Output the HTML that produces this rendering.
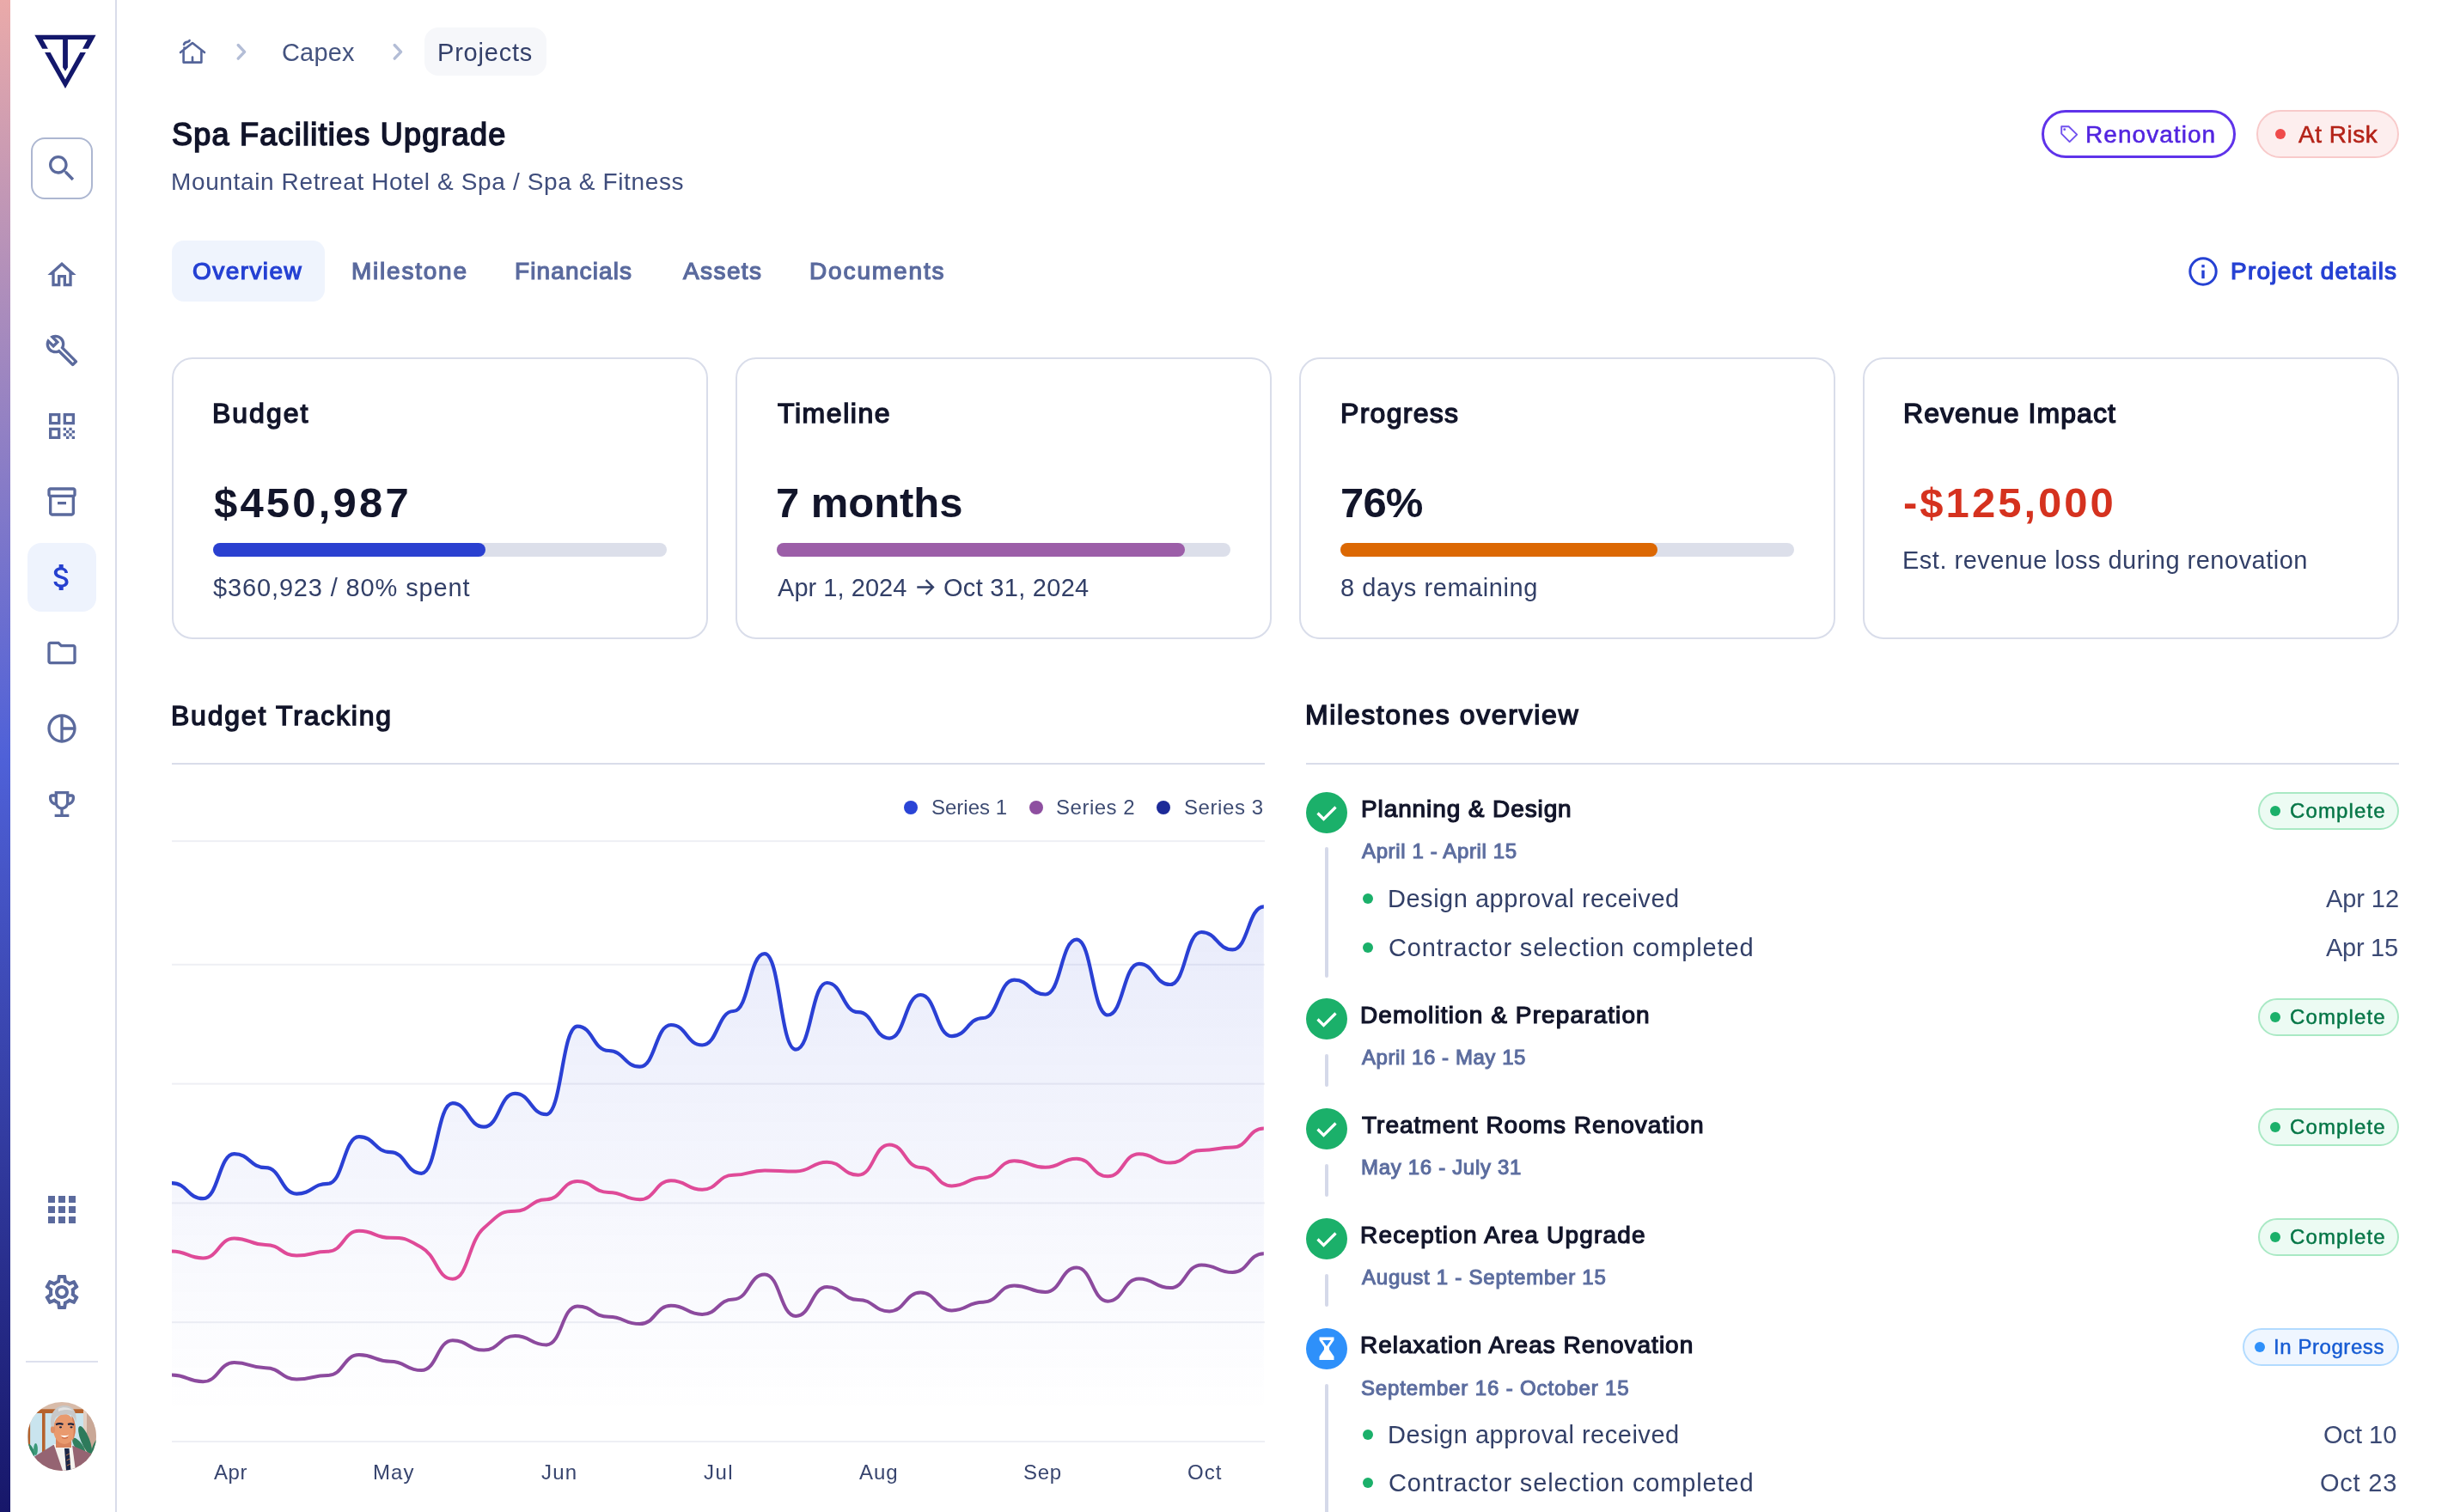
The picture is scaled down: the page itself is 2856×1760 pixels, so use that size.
<!DOCTYPE html>
<html><head><meta charset="utf-8"><title>Spa Facilities Upgrade</title>
<style>
html,body{margin:0;padding:0;}
body{width:2856px;height:1760px;overflow:hidden;position:relative;background:#fff;font-family:'Liberation Sans', sans-serif;-webkit-font-smoothing:antialiased;}
.t{position:absolute;white-space:nowrap;will-change:transform;}
@media (max-width:2000px){html{zoom:0.5;}}
body.measure .t{color:#000 !important;}
</style></head><body>
<div style="position:absolute;left:0px;top:0px;width:12px;height:1760px;background:linear-gradient(180deg,#eaaaa9 0%,#4f61d8 50%,#17176a 100%)"></div>
<div style="position:absolute;left:134px;top:0px;width:2px;height:1760px;background:#d9dcea"></div>
<svg style="position:absolute;left:0;top:0" width="136" height="120" viewBox="0 0 136 120"><path fill="#13176b" d="M40.3,40.8 L111.6,40.8 L102.8,56.7 L96,56.7 L101.8,45.9 L78.9,45.9 L78.9,78.4 L76,82.8 L73.1,78.4 L73.1,45.9 L49.9,45.9 L55.9,56.7 L49.2,56.7 Z"/><path fill="#13176b" d="M52.1,61 L58.6,61 L76,92.4 L93.4,61 L99.9,61 L76,103 Z"/></svg>
<div style="position:absolute;left:36px;top:160px;width:72px;height:72px;box-sizing:border-box;border:2px solid #adb7d1;border-radius:16px;background:#fff"></div>
<svg style="position:absolute;left:52.0px;top:176.0px" width="40" height="40" viewBox="0 0 24 24"><path fill="#5b6a9d" d="M15.5 14h-.79l-.28-.27C15.41 12.59 16 11.11 16 9.5 16 5.91 13.09 3 9.5 3S3 5.91 3 9.5 5.91 16 9.5 16c1.61 0 3.09-.59 4.23-1.57l.27.28v.79l5 4.99L20.49 19l-4.99-5zm-6 0C7.01 14 5 11.99 5 9.5S7.01 5 9.5 5 14 7.01 14 9.5 11.99 14 9.5 14z"/></svg>
<svg style="position:absolute;left:52.0px;top:300.0px" width="40" height="40" viewBox="0 0 24 24"><path fill="#5b6a9d" d="M12 5.69l5 4.5V18h-2v-6H9v6H7v-7.81l5-4.5M12 3L2 12h3v8h6v-6h2v6h6v-8h3L12 3z"/></svg>
<svg style="position:absolute;left:52.0px;top:388.0px" width="40" height="40" viewBox="0 0 24 24"><path fill="#5b6a9d" d="M22.61 18.99l-9.08-9.08c.93-2.34.45-5.1-1.44-7C9.79.61 6.21.4 3.66 2.26L7.5 6.11 6.08 7.52 2.25 3.69C.39 6.23.6 9.82 2.9 12.11c1.86 1.86 4.57 2.35 6.89 1.48l9.11 9.11c.39.39 1.02.39 1.41 0l2.3-2.3c.4-.38.4-1.01 0-1.41zm-3 1.6l-9.46-9.46c-.61.45-1.29.72-2 .82-1.36.2-2.79-.21-3.83-1.25C3.37 9.76 2.93 8.5 3 7.26l3.09 3.09 4.24-4.24-3.09-3.09c1.24-.07 2.49.37 3.44 1.31 1.08 1.08 1.49 2.57 1.24 3.96-.12.71-.42 1.37-.88 1.96l9.45 9.45-.88.89z"/></svg>
<svg style="position:absolute;left:52.0px;top:476.0px" width="40" height="40" viewBox="0 0 24 24"><path fill="#5b6a9d" d="M3 11h8V3H3v8zm2-6h4v4H5V5zM3 21h8v-8H3v8zm2-6h4v4H5v-4zM13 3v8h8V3h-8zm6 6h-4V5h4v4zM19 19h2v2h-2zM13 13h2v2h-2zM15 15h2v2h-2zM13 17h2v2h-2zM15 19h2v2h-2zM17 17h2v2h-2zM17 13h2v2h-2zM19 15h2v2h-2z"/></svg>
<svg style="position:absolute;left:52.0px;top:564.0px" width="40" height="40" viewBox="0 0 24 24"><path fill="#5b6a9d" d="M20 2H4c-1 0-2 .9-2 2v3.01c0 .72.43 1.34 1 1.69V20c0 1.1 1.1 2 2 2h14c.9 0 2-.9 2-2V8.7c.57-.35 1-.97 1-1.69V4c0-1.1-1-2-2-2zm-1 18H5V9h14v11zm1-13H4V4h16v3zM9 12h6v2H9z"/></svg>
<div style="position:absolute;left:32px;top:632px;width:80px;height:80px;background:#eef3fd;border-radius:16px"></div>
<svg style="position:absolute;left:52.0px;top:652.0px" width="40" height="40" viewBox="0 0 24 24"><path fill="#2540cf" d="M11.8 10.9c-2.27-.59-3-1.2-3-2.15 0-1.09 1.01-1.85 2.7-1.85 1.78 0 2.44.85 2.5 2.1h2.21c-.07-1.72-1.12-3.3-3.21-3.81V3h-3v2.16c-1.94.42-3.5 1.68-3.5 3.61 0 2.31 1.91 3.46 4.7 4.13 2.5.6 3 1.48 3 2.41 0 .69-.49 1.79-2.7 1.79-2.06 0-2.87-.92-2.98-2.1h-2.2c.12 2.19 1.76 3.42 3.68 3.83V21h3v-2.15c1.95-.37 3.5-1.5 3.5-3.55 0-2.84-2.43-3.81-4.7-4.4z"/></svg>
<svg style="position:absolute;left:52.0px;top:740.0px" width="40" height="40" viewBox="0 0 24 24"><path fill="#5b6a9d" d="M9.17 6l2 2H20v10H4V6h5.17M10 4H4c-1.1 0-1.99.9-1.99 2L2 18c0 1.1.9 2 2 2h16c1.1 0 2-.9 2-2V8c0-1.1-.9-2-2-2h-8l-2-2z"/></svg>
<svg style="position:absolute;left:52.0px;top:828.0px" width="40" height="40" viewBox="0 0 24 24"><path fill="#5b6a9d" d="M12 2C6.48 2 2 6.48 2 12s4.48 10 10 10 10-4.48 10-10S17.52 2 12 2zm7.93 9H13V4.07c3.61.45 6.48 3.32 6.93 6.93zM4 12c0-4.07 3.06-7.44 7-7.93v15.86c-3.94-.49-7-3.86-7-7.93zm9 7.93V13h6.93c-.45 3.61-3.32 6.48-6.93 6.93z"/></svg>
<svg style="position:absolute;left:52.0px;top:916.0px" width="40" height="40" viewBox="0 0 24 24"><path fill="#5b6a9d" d="M19 5h-2V3H7v2H5c-1.1 0-2 .9-2 2v1c0 2.55 1.92 4.63 4.39 4.94.63 1.5 1.98 2.63 3.61 2.96V19H7v2h10v-2h-4v-3.1c1.63-.33 2.98-1.46 3.61-2.96C19.08 12.63 21 10.55 21 8V7c0-1.1-.9-2-2-2zM5 8V7h2v3.82C5.84 10.4 5 9.3 5 8zm7 6c-1.65 0-3-1.35-3-3V5h6v6c0 1.65-1.35 3-3 3zm7-6c0 1.3-.84 2.4-2 2.82V7h2v1z"/></svg>
<svg style="position:absolute;left:48.0px;top:1384.0px" width="48" height="48" viewBox="0 0 24 24"><path fill="#5b6a9d" d="M4 8h4V4H4v4zm6 12h4v-4h-4v4zm-6 0h4v-4H4v4zm0-6h4v-4H4v4zm6 0h4v-4h-4v4zm6-10v4h4V4h-4zm-6 4h4V4h-4v4zm6 6h4v-4h-4v4zm0 6h4v-4h-4v4z"/></svg>
<svg style="position:absolute;left:48.0px;top:1480.0px" width="48" height="48" viewBox="0 0 24 24"><path fill="#5b6a9d" d="M19.43 12.98c.04-.32.07-.64.07-.98 0-.34-.03-.66-.07-.98l2.11-1.65c.19-.15.24-.42.12-.64l-2-3.46c-.09-.16-.26-.25-.44-.25-.06 0-.12.01-.17.03l-2.49 1c-.52-.4-1.08-.73-1.69-.98l-.38-2.65C14.46 2.18 14.25 2 14 2h-4c-.25 0-.46.18-.49.42l-.38 2.65c-.61.25-1.17.59-1.69.98l-2.49-1c-.06-.02-.12-.03-.18-.03-.17 0-.34.09-.43.25l-2 3.46c-.13.22-.07.49.12.64l2.11 1.65c-.04.32-.07.65-.07.98 0 .33.03.66.07.98l-2.11 1.65c-.19.15-.24.42-.12.64l2 3.46c.09.16.26.25.44.25.06 0 .12-.01.17-.03l2.49-1c.52.4 1.08.73 1.69.98l.38 2.65c.03.24.24.42.49.42h4c.25 0 .46-.18.49-.42l.38-2.65c.61-.25 1.17-.59 1.69-.98l2.49 1c.06.02.12.03.18.03.17 0 .34-.09.43-.25l2-3.46c.12-.22.07-.49-.12-.64l-2.11-1.65zm-1.98-1.71c.04.31.05.52.05.73 0 .21-.02.43-.05.73l-.14 1.13.89.7 1.08.84-.7 1.21-1.27-.51-1.04-.42-.9.68c-.43.32-.84.56-1.25.73l-1.06.43-.16 1.13-.2 1.35h-1.4l-.19-1.35-.16-1.13-1.06-.43c-.43-.18-.83-.41-1.23-.71l-.91-.7-1.06.43-1.27.51-.7-1.21 1.08-.84.89-.7-.14-1.13c-.03-.31-.05-.54-.05-.74s.02-.43.05-.73l.14-1.13-.89-.7-1.08-.84.7-1.21 1.27.51 1.04.42.9-.68c.43-.32.84-.56 1.25-.73l1.06-.43.16-1.13.2-1.35h1.39l.19 1.35.16 1.13 1.06.43c.43.18.83.41 1.23.71l.91.7 1.06-.43 1.27-.51.7 1.21-1.07.85-.89.7.14 1.13zM12 8c-2.21 0-4 1.79-4 4s1.79 4 4 4 4-1.79 4-4-1.79-4-4-4zm0 6c-1.1 0-2-.9-2-2s.9-2 2-2 2 .9 2 2-.9 2-2 2z"/></svg>
<div style="position:absolute;left:30px;top:1584px;width:84px;height:2px;background:#dde0ee"></div>
<svg style="position:absolute;left:32px;top:1632px" width="80" height="80" viewBox="0 0 80 80">
<defs><clipPath id="av"><circle cx="40" cy="40" r="40"/></clipPath></defs>
<g clip-path="url(#av)">
<rect width="80" height="80" fill="#d8bba9"/>
<rect x="0" y="8.3" width="66" height="5" fill="#b5622c"/>
<rect x="0" y="13" width="66" height="52" fill="#c9e4ee"/>
<rect x="0.5" y="13" width="2.6" height="52" fill="#b5622c"/>
<rect x="17" y="13" width="3.6" height="48" fill="#b5622c"/>
<rect x="65" y="8" width="15" height="72" fill="#c9a796"/>
<rect x="65" y="8" width="4" height="72" fill="#e3d0c3"/>
<ellipse cx="67" cy="44" rx="5" ry="17" transform="rotate(-22 67 44)" fill="#2d7a5b"/>
<ellipse cx="60" cy="52" rx="4.5" ry="12" transform="rotate(-35 60 52)" fill="#2f805f"/>
<ellipse cx="78" cy="56" rx="3.5" ry="14" transform="rotate(18 78 56)" fill="#2d7a5b"/>
<ellipse cx="4" cy="56" rx="3" ry="8" transform="rotate(-25 4 56)" fill="#2f8a6a"/>
<ellipse cx="9.5" cy="55" rx="2.4" ry="7" fill="#3a9a78"/>
<path d="M4,66 L30,50 L53,51 L76,61 L80,80 L0,80 Z" fill="#956472"/>
<path d="M30.5,49 L52,50 L56,80 L41,80 Z" fill="#f5f3ef"/>
<rect x="33" y="40" width="18" height="13" fill="#d9845c"/>
<path d="M43,54 L48.5,54 L50.5,80 L45,80 Z" fill="#1d2847"/>
<path d="M45,62 L49,60 M45.5,68 L49.5,66 M46,74 L50,72" stroke="#c0774a" stroke-width="1"/>
<ellipse cx="43" cy="31.5" rx="13" ry="17.5" fill="#e99a6e"/>
<path d="M51,16 C57,20 57,38 52,47 C55,38 54,24 51,16 Z" fill="#d47d55"/>
<ellipse cx="29.5" cy="32" rx="2.6" ry="4.2" fill="#df8f66"/>
<path d="M27.5,28 C25,13 33,4 43,4 C52,4 58,10 56.5,24 C55,17 51,13.5 44,14.5 C38,15 33,15.5 31.5,21 L30.5,29 Z" fill="#c8c8c8"/>
<path d="M36,8 C41,5 49,6 53,10 C48,8.5 42,8.5 36,11 Z" fill="#e2e2e2"/>
<path d="M33,26.2 Q37,24.3 41.5,26" stroke="#1d2340" stroke-width="2.2" fill="none"/>
<path d="M47,26 Q50.5,24.6 54,26.5" stroke="#1d2340" stroke-width="2.2" fill="none"/>
<ellipse cx="38.5" cy="29.3" rx="1.6" ry="1.1" fill="#1d2340"/>
<ellipse cx="51" cy="29.3" rx="1.6" ry="1.1" fill="#1d2340"/>
<path d="M38.3,38.4 Q43.5,43.5 48.5,38.2 Q43.5,39.8 38.3,38.4 Z" fill="#ffffff"/>
<path d="M40,41.5 Q43.5,43.5 47,41.3" stroke="#c8603f" stroke-width="0.9" fill="none"/>
</g></svg>
<svg style="position:absolute;left:200px;top:36px" width="50" height="50" viewBox="200 36 50 50" fill="none" stroke="#55659a" stroke-width="2.6" stroke-linecap="round" stroke-linejoin="round"><path d="M213.6,59 V72.6 H234.4 V59" stroke-linecap="butt"/><path d="M210,61 L224,50 L238,61"/><path d="M224,72 V66.5"/><path d="M214.6,57.5 V54.5" stroke-linecap="butt"/><path d="M214,51.8 C214.8,49 217.5,48.8 219,48.6 C220,48.4 220.5,47.6 220.6,47"/></svg>
<svg style="position:absolute;left:273.5px;top:48.5px" width="16" height="24" viewBox="0 0 16 24" fill="none" stroke="#b3bdd6" stroke-width="3.4" stroke-linecap="round" stroke-linejoin="round"><path d="M3.2 3.5 L10.6 11.3 L3.2 19.1"/></svg>
<svg style="position:absolute;left:456px;top:48.5px" width="16" height="24" viewBox="0 0 16 24" fill="none" stroke="#b3bdd6" stroke-width="3.4" stroke-linecap="round" stroke-linejoin="round"><path d="M3.2 3.5 L10.6 11.3 L3.2 19.1"/></svg>
<div id="bc_capex" class="t" style="top:47px;font-size:29px;line-height:29px;color:#44537f;font-weight:400;letter-spacing:0.175px;left:327.60px;">Capex</div>
<div style="position:absolute;left:494px;top:32px;width:142px;height:56px;background:#f6f7fa;border-radius:16px"></div>
<div id="bc_proj" class="t" style="top:47px;font-size:29px;line-height:29px;color:#34406a;font-weight:400;letter-spacing:0.786px;left:509.00px;">Projects</div>
<div id="title" class="t" style="top:138.5px;font-size:36px;line-height:36px;color:#11142a;font-weight:400;letter-spacing:1.238px;left:200.00px;-webkit-text-stroke:1.58px #11142a;">Spa Facilities Upgrade</div>
<div id="subtitle" class="t" style="top:198.4px;font-size:28px;line-height:28px;color:#3f4d7c;font-weight:400;letter-spacing:0.626px;left:199.00px;">Mountain Retreat Hotel &amp; Spa / Spa &amp; Fitness</div>
<div style="position:absolute;left:2376px;top:128px;width:226px;height:56px;box-sizing:border-box;border:3px solid #5f33ea;border-radius:28px;background:#fff"></div>
<svg style="position:absolute;left:2390px;top:140px" width="36" height="32" viewBox="2390 140 36 32" fill="none" stroke="#7151ee" stroke-width="1.9" stroke-linejoin="round"><path d="M2399.2,147.2 H2407.6 L2417.2,156.6 L2408.6,165.1 L2399.2,155.6 Z"/><circle cx="2402.7" cy="150.7" r="1.4" fill="#7151ee" stroke="none"/></svg>
<div id="renov" class="t" style="top:142.9px;font-size:28px;line-height:28px;color:#5224e0;font-weight:400;letter-spacing:1.056px;left:2427.00px;-webkit-text-stroke:0.56px #5224e0;">Renovation</div>
<div style="position:absolute;left:2626px;top:128px;width:166px;height:56px;box-sizing:border-box;border:2px solid #f8caca;border-radius:28px;background:#fdeeee"></div>
<div style="position:absolute;left:2648px;top:150px;width:12px;height:12px;background:#ef4b4b;border-radius:50%"></div>
<div id="atrisk" class="t" style="top:142.9px;font-size:28px;line-height:28px;color:#b42318;font-weight:400;letter-spacing:0.518px;left:2675.00px;-webkit-text-stroke:0.56px #b42318;">At Risk</div>
<div style="position:absolute;left:200px;top:280px;width:178px;height:71px;background:#eff4fd;border-radius:14px"></div>
<div id="tab_over" class="t" style="top:302px;font-size:28px;line-height:28px;color:#2541d3;font-weight:400;letter-spacing:1.429px;left:224.00px;-webkit-text-stroke:1.23px #2541d3;">Overview</div>
<div id="tab_mile" class="t" style="top:302px;font-size:28px;line-height:28px;color:#5a6a9e;font-weight:400;letter-spacing:1.775px;left:409.00px;-webkit-text-stroke:1.23px #5a6a9e;">Milestone</div>
<div id="tab_fin" class="t" style="top:302px;font-size:28px;line-height:28px;color:#5a6a9e;font-weight:400;letter-spacing:1.111px;left:599.00px;-webkit-text-stroke:1.23px #5a6a9e;">Financials</div>
<div id="tab_ass" class="t" style="top:302px;font-size:28px;line-height:28px;color:#5a6a9e;font-weight:400;letter-spacing:1.400px;left:795.00px;-webkit-text-stroke:1.23px #5a6a9e;">Assets</div>
<div id="tab_doc" class="t" style="top:302px;font-size:28px;line-height:28px;color:#5a6a9e;font-weight:400;letter-spacing:1.875px;left:942.00px;-webkit-text-stroke:1.23px #5a6a9e;">Documents</div>
<svg style="position:absolute;left:2544px;top:296px" width="40" height="40" viewBox="0 0 40 40" fill="none"><circle cx="20" cy="20" r="15.2" stroke="#2541d3" stroke-width="3"/><rect x="18.3" y="18.6" width="3.4" height="9.6" fill="#2541d3"/><rect x="18.3" y="12.2" width="3.4" height="3.2" fill="#2541d3"/></svg>
<div id="projdet" class="t" style="top:302.2px;font-size:28px;line-height:28px;color:#2541d3;font-weight:400;letter-spacing:1.230px;left:2596.40px;-webkit-text-stroke:1.23px #2541d3;">Project details</div>
<div style="position:absolute;left:200px;top:416px;width:624px;height:328px;box-sizing:border-box;border:2px solid #d9ddea;border-radius:24px;background:#fff"></div>
<div id="c0_t" class="t" style="top:464.8px;font-size:32px;line-height:32px;color:#12152a;font-weight:400;letter-spacing:1.980px;left:246.80px;-webkit-text-stroke:1.41px #12152a;">Budget</div>
<div id="c0_v" class="t" style="top:561px;font-size:49px;line-height:49px;color:#12152a;font-weight:700;letter-spacing:3.182px;left:249.40px;">$450,987</div>
<div style="position:absolute;left:248px;top:632px;width:528px;height:16px;background:#dcdfea;border-radius:8px"></div>
<div style="position:absolute;left:248px;top:632px;width:317px;height:16px;background:#2a40d0;border-radius:8px"></div>
<div id="c0_s" class="t" style="top:670px;font-size:29px;line-height:29px;color:#323f67;font-weight:400;letter-spacing:0.861px;left:247.80px;">$360,923 / 80% spent</div>
<div style="position:absolute;left:856px;top:416px;width:624px;height:328px;box-sizing:border-box;border:2px solid #d9ddea;border-radius:24px;background:#fff"></div>
<div id="c1_t" class="t" style="top:464.8px;font-size:32px;line-height:32px;color:#12152a;font-weight:400;letter-spacing:1.559px;left:905.00px;-webkit-text-stroke:1.41px #12152a;">Timeline</div>
<div id="c1_v" class="t" style="top:561px;font-size:49px;line-height:49px;color:#12152a;font-weight:700;letter-spacing:-0.040px;left:903.00px;">7 months</div>
<div style="position:absolute;left:904px;top:632px;width:528px;height:16px;background:#dcdfea;border-radius:8px"></div>
<div style="position:absolute;left:904px;top:632px;width:475px;height:16px;background:#9c5ea8;border-radius:8px"></div>
<div id="c1_sa" class="t" style="top:670px;font-size:29px;line-height:29px;color:#323f67;font-weight:400;letter-spacing:0.040px;left:905.00px;">Apr 1, 2024</div>
<div id="c1_sb" class="t" style="top:670px;font-size:29px;line-height:29px;color:#323f67;font-weight:400;letter-spacing:0.290px;left:1098.20px;">Oct 31, 2024</div>
<svg style="position:absolute;left:1064px;top:672px" width="28" height="24" viewBox="1064 672 28 24" fill="none" stroke="#323f67" stroke-width="2.3"><path d="M1067.3,683.5 H1086.6 M1077.6,675.1 L1086,683.5 L1077.6,691.9"/></svg>
<div style="position:absolute;left:1512px;top:416px;width:624px;height:328px;box-sizing:border-box;border:2px solid #d9ddea;border-radius:24px;background:#fff"></div>
<div id="c2_t" class="t" style="top:464.8px;font-size:32px;line-height:32px;color:#12152a;font-weight:400;letter-spacing:1.286px;left:1559.90px;-webkit-text-stroke:1.41px #12152a;">Progress</div>
<div id="c2_v" class="t" style="top:561px;font-size:49px;line-height:49px;color:#12152a;font-weight:700;letter-spacing:-0.850px;left:1559.90px;">76%</div>
<div style="position:absolute;left:1560px;top:632px;width:528px;height:16px;background:#dcdfea;border-radius:8px"></div>
<div style="position:absolute;left:1560px;top:632px;width:369px;height:16px;background:#dc6803;border-radius:8px"></div>
<div id="c2_s" class="t" style="top:670px;font-size:29px;line-height:29px;color:#323f67;font-weight:400;letter-spacing:0.566px;left:1560.00px;">8 days remaining</div>
<div style="position:absolute;left:2168px;top:416px;width:624px;height:328px;box-sizing:border-box;border:2px solid #d9ddea;border-radius:24px;background:#fff"></div>
<div id="c3_t" class="t" style="top:464.8px;font-size:32px;line-height:32px;color:#12152a;font-weight:400;letter-spacing:1.068px;left:2215.10px;-webkit-text-stroke:1.41px #12152a;">Revenue Impact</div>
<div id="c3_v" class="t" style="top:561px;font-size:49px;line-height:49px;color:#d5321f;font-weight:700;letter-spacing:3.019px;left:2215.10px;">-$125,000</div>
<div id="c3_s" class="t" style="top:638.4px;font-size:29px;line-height:29px;color:#323f67;font-weight:400;letter-spacing:0.497px;left:2214.10px;">Est. revenue loss during renovation</div>
<div id="bt_title" class="t" style="top:816.7px;font-size:32px;line-height:32px;color:#12152a;font-weight:400;letter-spacing:1.769px;left:198.60px;-webkit-text-stroke:1.41px #12152a;">Budget Tracking</div>
<div style="position:absolute;left:200px;top:888px;width:1272px;height:2px;background:#d9ddea"></div>
<div style="position:absolute;left:1052px;top:932px;width:16px;height:16px;background:#2a44d6;border-radius:50%"></div>
<div id="lg0" class="t" style="top:927.5px;font-size:24px;line-height:24px;color:#3e4c73;font-weight:400;letter-spacing:0.000px;left:1084.00px;">Series 1</div>
<div style="position:absolute;left:1198px;top:932px;width:16px;height:16px;background:#8e4fa0;border-radius:50%"></div>
<div id="lg1" class="t" style="top:927.5px;font-size:24px;line-height:24px;color:#3e4c73;font-weight:400;letter-spacing:0.519px;left:1229.20px;">Series 2</div>
<div style="position:absolute;left:1346px;top:932px;width:16px;height:16px;background:#1c2a98;border-radius:50%"></div>
<div id="lg2" class="t" style="top:927.5px;font-size:24px;line-height:24px;color:#3e4c73;font-weight:400;letter-spacing:0.571px;left:1378.00px;">Series 3</div>
<svg style="position:absolute;left:0;top:0" width="1480" height="1700" viewBox="0 0 1480 1700">
<defs><linearGradient id="ag" x1="0" y1="1055" x2="0" y2="1678" gradientUnits="userSpaceOnUse">
<stop offset="0.05" stop-color="#2a44d6" stop-opacity="0.10"/><stop offset="0.95" stop-color="#2a44d6" stop-opacity="0"/></linearGradient></defs>
<rect x="200" y="978.15" width="1272" height="2" fill="#eeeff4"/><rect x="200" y="1121.8" width="1272" height="2" fill="#eeeff4"/><rect x="200" y="1260.6" width="1272" height="2" fill="#eeeff4"/><rect x="200" y="1399.4" width="1272" height="2" fill="#eeeff4"/><rect x="200" y="1538.2" width="1272" height="2" fill="#eeeff4"/><rect x="200" y="1677.0" width="1272" height="2" fill="#eeeff4"/>
<path d="M200.00,1377.20C218.15,1377.20 218.15,1395.20 236.31,1395.20C254.46,1395.20 254.46,1343.20 272.62,1343.20C290.77,1343.20 290.77,1359.10 308.93,1359.10C327.08,1359.10 327.08,1389.60 345.23,1389.60C363.39,1389.60 363.39,1377.80 381.54,1377.80C399.70,1377.80 399.70,1323.10 417.85,1323.10C436.01,1323.10 436.01,1341.10 454.16,1341.10C472.31,1341.10 472.31,1365.80 490.47,1365.80C508.62,1365.80 508.62,1284.20 526.78,1284.20C544.93,1284.20 544.93,1311.70 563.09,1311.70C581.24,1311.70 581.24,1272.90 599.39,1272.90C617.55,1272.90 617.55,1297.20 635.70,1297.20C653.86,1297.20 653.86,1194.60 672.01,1194.60C690.17,1194.60 690.17,1223.00 708.32,1223.00C726.47,1223.00 726.47,1241.70 744.63,1241.70C762.78,1241.70 762.78,1193.00 780.94,1193.00C799.09,1193.00 799.09,1216.50 817.25,1216.50C835.40,1216.50 835.40,1177.00 853.55,1177.00C871.71,1177.00 871.71,1110.20 889.86,1110.20C908.02,1110.20 908.02,1221.60 926.17,1221.60C944.33,1221.60 944.33,1144.00 962.48,1144.00C980.63,1144.00 980.63,1178.10 998.79,1178.10C1016.94,1178.10 1016.94,1208.60 1035.10,1208.60C1053.25,1208.60 1053.25,1158.00 1071.41,1158.00C1089.56,1158.00 1089.56,1206.10 1107.71,1206.10C1125.87,1206.10 1125.87,1185.00 1144.02,1185.00C1162.18,1185.00 1162.18,1140.70 1180.33,1140.70C1198.49,1140.70 1198.49,1157.50 1216.64,1157.50C1234.79,1157.50 1234.79,1093.60 1252.95,1093.60C1271.10,1093.60 1271.10,1181.50 1289.26,1181.50C1307.41,1181.50 1307.41,1121.90 1325.57,1121.90C1343.72,1121.90 1343.72,1146.00 1361.87,1146.00C1380.03,1146.00 1380.03,1085.00 1398.18,1085.00C1416.34,1085.00 1416.34,1105.40 1434.49,1105.40C1452.65,1105.40 1452.65,1055.40 1470.80,1055.40 L1470.80,1678 L200.00,1678 Z" fill="url(#ag)"/>
<path d="M200.00,1600.60C218.15,1600.60 218.15,1608.20 236.31,1608.20C254.46,1608.20 254.46,1586.10 272.62,1586.10C290.77,1586.10 290.77,1592.30 308.93,1592.30C327.08,1592.30 327.08,1605.50 345.23,1605.50C363.39,1605.50 363.39,1601.00 381.54,1601.00C399.70,1601.00 399.70,1577.10 417.85,1577.10C436.01,1577.10 436.01,1584.70 454.16,1584.70C472.31,1584.70 472.31,1595.10 490.47,1595.10C508.62,1595.10 508.62,1560.30 526.78,1560.30C544.93,1560.30 544.93,1571.60 563.09,1571.60C581.24,1571.60 581.24,1555.00 599.39,1555.00C617.55,1555.00 617.55,1565.40 635.70,1565.40C653.86,1565.40 653.86,1520.40 672.01,1520.40C690.17,1520.40 690.17,1532.80 708.32,1532.80C726.47,1532.80 726.47,1541.10 744.63,1541.10C762.78,1541.10 762.78,1519.70 780.94,1519.70C799.09,1519.70 799.09,1530.00 817.25,1530.00C835.40,1530.00 835.40,1512.40 853.55,1512.40C871.71,1512.40 871.71,1483.50 889.86,1483.50C908.02,1483.50 908.02,1531.90 926.17,1531.90C944.33,1531.90 944.33,1498.10 962.48,1498.10C980.63,1498.10 980.63,1512.90 998.79,1512.90C1016.94,1512.90 1016.94,1526.40 1035.10,1526.40C1053.25,1526.40 1053.25,1504.60 1071.41,1504.60C1089.56,1504.60 1089.56,1525.40 1107.71,1525.40C1125.87,1525.40 1125.87,1515.70 1144.02,1515.70C1162.18,1515.70 1162.18,1496.40 1180.33,1496.40C1198.49,1496.40 1198.49,1504.00 1216.64,1504.00C1234.79,1504.00 1234.79,1475.60 1252.95,1475.60C1271.10,1475.60 1271.10,1514.70 1289.26,1514.70C1307.41,1514.70 1307.41,1488.40 1325.57,1488.40C1343.72,1488.40 1343.72,1499.10 1361.87,1499.10C1380.03,1499.10 1380.03,1472.40 1398.18,1472.40C1416.34,1472.40 1416.34,1481.10 1434.49,1481.10C1452.65,1481.10 1452.65,1459.30 1470.80,1459.30" fill="none" stroke="#8c4a9e" stroke-width="4"/>
<path d="M200.00,1456.40C218.15,1456.40 218.15,1464.40 236.31,1464.40C254.46,1464.40 254.46,1441.50 272.62,1441.50C290.77,1441.50 290.77,1448.90 308.93,1448.90C327.08,1448.90 327.08,1461.60 345.23,1461.60C363.39,1461.60 363.39,1456.80 381.54,1456.80C399.70,1456.80 399.70,1432.80 417.85,1432.80C436.01,1432.80 436.01,1440.80 454.16,1440.80C472.31,1440.80 472.31,1441.92 490.47,1451.90C508.62,1461.88 508.62,1488.70 526.78,1488.70C544.93,1488.70 544.93,1444.83 563.09,1429.40C581.24,1413.97 581.24,1409.80 599.39,1409.80C617.55,1409.80 617.55,1396.20 635.70,1396.20C653.86,1396.20 653.86,1375.10 672.01,1375.10C690.17,1375.10 690.17,1387.90 708.32,1387.90C726.47,1387.90 726.47,1396.20 744.63,1396.20C762.78,1396.20 762.78,1374.30 780.94,1374.30C799.09,1374.30 799.09,1384.80 817.25,1384.80C835.40,1384.80 835.40,1367.70 853.55,1367.70C871.71,1367.70 871.71,1362.40 889.86,1362.40C908.02,1362.40 908.02,1363.50 926.17,1363.50C944.33,1363.50 944.33,1352.70 962.48,1352.70C980.63,1352.70 980.63,1367.70 998.79,1367.70C1016.94,1367.70 1016.94,1332.40 1035.10,1332.40C1053.25,1332.40 1053.25,1359.00 1071.41,1359.00C1089.56,1359.00 1089.56,1380.40 1107.71,1380.40C1125.87,1380.40 1125.87,1370.70 1144.02,1370.70C1162.18,1370.70 1162.18,1351.30 1180.33,1351.30C1198.49,1351.30 1198.49,1358.80 1216.64,1358.80C1234.79,1358.80 1234.79,1348.70 1252.95,1348.70C1271.10,1348.70 1271.10,1369.30 1289.26,1369.30C1307.41,1369.30 1307.41,1343.20 1325.57,1343.20C1343.72,1343.20 1343.72,1353.60 1361.87,1353.60C1380.03,1353.60 1380.03,1338.90 1398.18,1338.90C1416.34,1338.90 1416.34,1335.60 1434.49,1335.60C1452.65,1335.60 1452.65,1313.50 1470.80,1313.50" fill="none" stroke="#df4a98" stroke-width="4"/>
<path d="M200.00,1377.20C218.15,1377.20 218.15,1395.20 236.31,1395.20C254.46,1395.20 254.46,1343.20 272.62,1343.20C290.77,1343.20 290.77,1359.10 308.93,1359.10C327.08,1359.10 327.08,1389.60 345.23,1389.60C363.39,1389.60 363.39,1377.80 381.54,1377.80C399.70,1377.80 399.70,1323.10 417.85,1323.10C436.01,1323.10 436.01,1341.10 454.16,1341.10C472.31,1341.10 472.31,1365.80 490.47,1365.80C508.62,1365.80 508.62,1284.20 526.78,1284.20C544.93,1284.20 544.93,1311.70 563.09,1311.70C581.24,1311.70 581.24,1272.90 599.39,1272.90C617.55,1272.90 617.55,1297.20 635.70,1297.20C653.86,1297.20 653.86,1194.60 672.01,1194.60C690.17,1194.60 690.17,1223.00 708.32,1223.00C726.47,1223.00 726.47,1241.70 744.63,1241.70C762.78,1241.70 762.78,1193.00 780.94,1193.00C799.09,1193.00 799.09,1216.50 817.25,1216.50C835.40,1216.50 835.40,1177.00 853.55,1177.00C871.71,1177.00 871.71,1110.20 889.86,1110.20C908.02,1110.20 908.02,1221.60 926.17,1221.60C944.33,1221.60 944.33,1144.00 962.48,1144.00C980.63,1144.00 980.63,1178.10 998.79,1178.10C1016.94,1178.10 1016.94,1208.60 1035.10,1208.60C1053.25,1208.60 1053.25,1158.00 1071.41,1158.00C1089.56,1158.00 1089.56,1206.10 1107.71,1206.10C1125.87,1206.10 1125.87,1185.00 1144.02,1185.00C1162.18,1185.00 1162.18,1140.70 1180.33,1140.70C1198.49,1140.70 1198.49,1157.50 1216.64,1157.50C1234.79,1157.50 1234.79,1093.60 1252.95,1093.60C1271.10,1093.60 1271.10,1181.50 1289.26,1181.50C1307.41,1181.50 1307.41,1121.90 1325.57,1121.90C1343.72,1121.90 1343.72,1146.00 1361.87,1146.00C1380.03,1146.00 1380.03,1085.00 1398.18,1085.00C1416.34,1085.00 1416.34,1105.40 1434.49,1105.40C1452.65,1105.40 1452.65,1055.40 1470.80,1055.40" fill="none" stroke="#2a40d4" stroke-width="4.2"/>
</svg>
<div id="m0" class="t" style="top:1702px;font-size:24px;line-height:24px;color:#38456f;font-weight:400;letter-spacing:0.600px;left:249.00px;">Apr</div>
<div id="m1" class="t" style="top:1702px;font-size:24px;line-height:24px;color:#38456f;font-weight:400;letter-spacing:1.050px;left:434.00px;">May</div>
<div id="m2" class="t" style="top:1702px;font-size:24px;line-height:24px;color:#38456f;font-weight:400;letter-spacing:1.150px;left:629.60px;">Jun</div>
<div id="m3" class="t" style="top:1702px;font-size:24px;line-height:24px;color:#38456f;font-weight:400;letter-spacing:1.450px;left:818.60px;">Jul</div>
<div id="m4" class="t" style="top:1702px;font-size:24px;line-height:24px;color:#38456f;font-weight:400;letter-spacing:0.950px;left:1000.00px;">Aug</div>
<div id="m5" class="t" style="top:1702px;font-size:24px;line-height:24px;color:#38456f;font-weight:400;letter-spacing:0.750px;left:1191.00px;">Sep</div>
<div id="m6" class="t" style="top:1702px;font-size:24px;line-height:24px;color:#38456f;font-weight:400;letter-spacing:1.050px;left:1382.20px;">Oct</div>
<div id="ms_title" class="t" style="top:815.8px;font-size:32px;line-height:32px;color:#12152a;font-weight:400;letter-spacing:1.632px;left:1519.20px;-webkit-text-stroke:1.41px #12152a;">Milestones overview</div>
<div style="position:absolute;left:1520px;top:888px;width:1272px;height:2px;background:#d9ddea"></div>
<svg style="position:absolute;left:1520px;top:922px" width="48" height="48" viewBox="0 0 48 48"><circle cx="24" cy="24" r="24" fill="#1bb06a"/><path d="M13.5 24.5 L20.5 31.5 L34.5 17.5" fill="none" stroke="#fff" stroke-width="3.2"/></svg>
<div style="position:absolute;left:2628px;top:922px;width:164px;height:44px;box-sizing:border-box;border:2px solid #a9e9c4;border-radius:22px;background:#ecfbf3"></div>
<div style="position:absolute;left:2642px;top:938px;width:12px;height:12px;background:#1bb06a;border-radius:50%"></div>
<div id="bd0" class="t" style="top:932px;font-size:24px;line-height:24px;color:#067647;font-weight:400;letter-spacing:1.117px;left:2665.00px;-webkit-text-stroke:0.48px #067647;">Complete</div>
<div id="mt0" class="t" style="top:927.8px;font-size:28px;line-height:28px;color:#12152a;font-weight:400;letter-spacing:0.895px;left:1583.60px;-webkit-text-stroke:1.23px #12152a;">Planning &amp; Design</div>
<div id="md0" class="t" style="top:979.3px;font-size:24px;line-height:24px;color:#5c6d9f;font-weight:400;letter-spacing:0.628px;left:1585.00px;-webkit-text-stroke:1.06px #5c6d9f;">April 1 - April 15</div>
<svg style="position:absolute;left:1520px;top:1162px" width="48" height="48" viewBox="0 0 48 48"><circle cx="24" cy="24" r="24" fill="#1bb06a"/><path d="M13.5 24.5 L20.5 31.5 L34.5 17.5" fill="none" stroke="#fff" stroke-width="3.2"/></svg>
<div style="position:absolute;left:2628px;top:1162px;width:164px;height:44px;box-sizing:border-box;border:2px solid #a9e9c4;border-radius:22px;background:#ecfbf3"></div>
<div style="position:absolute;left:2642px;top:1178px;width:12px;height:12px;background:#1bb06a;border-radius:50%"></div>
<div id="bd1" class="t" style="top:1172px;font-size:24px;line-height:24px;color:#067647;font-weight:400;letter-spacing:1.117px;left:2665.00px;-webkit-text-stroke:0.48px #067647;">Complete</div>
<div id="mt1" class="t" style="top:1167.8px;font-size:28px;line-height:28px;color:#12152a;font-weight:400;letter-spacing:1.103px;left:1583.00px;-webkit-text-stroke:1.23px #12152a;">Demolition &amp; Preparation</div>
<div id="md1" class="t" style="top:1219.3px;font-size:24px;line-height:24px;color:#5c6d9f;font-weight:400;letter-spacing:0.562px;left:1585.00px;-webkit-text-stroke:1.06px #5c6d9f;">April 16 - May 15</div>
<svg style="position:absolute;left:1520px;top:1290px" width="48" height="48" viewBox="0 0 48 48"><circle cx="24" cy="24" r="24" fill="#1bb06a"/><path d="M13.5 24.5 L20.5 31.5 L34.5 17.5" fill="none" stroke="#fff" stroke-width="3.2"/></svg>
<div style="position:absolute;left:2628px;top:1290px;width:164px;height:44px;box-sizing:border-box;border:2px solid #a9e9c4;border-radius:22px;background:#ecfbf3"></div>
<div style="position:absolute;left:2642px;top:1306px;width:12px;height:12px;background:#1bb06a;border-radius:50%"></div>
<div id="bd2" class="t" style="top:1300px;font-size:24px;line-height:24px;color:#067647;font-weight:400;letter-spacing:1.117px;left:2665.00px;-webkit-text-stroke:0.48px #067647;">Complete</div>
<div id="mt2" class="t" style="top:1295.8px;font-size:28px;line-height:28px;color:#12152a;font-weight:400;letter-spacing:1.004px;left:1585.00px;-webkit-text-stroke:1.23px #12152a;">Treatment Rooms Renovation</div>
<div id="md2" class="t" style="top:1347.3px;font-size:24px;line-height:24px;color:#5c6d9f;font-weight:400;letter-spacing:0.682px;left:1584.00px;-webkit-text-stroke:1.06px #5c6d9f;">May 16 - July 31</div>
<svg style="position:absolute;left:1520px;top:1418px" width="48" height="48" viewBox="0 0 48 48"><circle cx="24" cy="24" r="24" fill="#1bb06a"/><path d="M13.5 24.5 L20.5 31.5 L34.5 17.5" fill="none" stroke="#fff" stroke-width="3.2"/></svg>
<div style="position:absolute;left:2628px;top:1418px;width:164px;height:44px;box-sizing:border-box;border:2px solid #a9e9c4;border-radius:22px;background:#ecfbf3"></div>
<div style="position:absolute;left:2642px;top:1434px;width:12px;height:12px;background:#1bb06a;border-radius:50%"></div>
<div id="bd3" class="t" style="top:1428px;font-size:24px;line-height:24px;color:#067647;font-weight:400;letter-spacing:1.117px;left:2665.00px;-webkit-text-stroke:0.48px #067647;">Complete</div>
<div id="mt3" class="t" style="top:1423.8px;font-size:28px;line-height:28px;color:#12152a;font-weight:400;letter-spacing:1.191px;left:1583.00px;-webkit-text-stroke:1.23px #12152a;">Reception Area Upgrade</div>
<div id="md3" class="t" style="top:1475.3px;font-size:24px;line-height:24px;color:#5c6d9f;font-weight:400;letter-spacing:0.772px;left:1585.00px;-webkit-text-stroke:1.06px #5c6d9f;">August 1 - September 15</div>
<div style="position:absolute;left:1542px;top:986px;width:4px;height:152px;background:#d5d9e9;border-radius:2px"></div>
<div style="position:absolute;left:1542px;top:1227px;width:4px;height:38px;background:#d5d9e9;border-radius:2px"></div>
<div style="position:absolute;left:1542px;top:1355px;width:4px;height:38px;background:#d5d9e9;border-radius:2px"></div>
<div style="position:absolute;left:1542px;top:1483px;width:4px;height:38px;background:#d5d9e9;border-radius:2px"></div>
<div style="position:absolute;left:1542px;top:1611px;width:4px;height:189px;background:#d5d9e9;border-radius:2px"></div>
<div style="position:absolute;left:1586px;top:1040.2px;width:12px;height:12px;background:#1bb06a;border-radius:50%"></div>
<div id="si0" class="t" style="top:1032.2px;font-size:29px;line-height:29px;color:#323f67;font-weight:400;letter-spacing:0.518px;left:1615.00px;">Design approval received</div>
<div id="sd0" class="t" style="top:1032.2px;font-size:29px;line-height:29px;color:#3b4974;font-weight:400;letter-spacing:-0.080px;right:64.28px;text-align:right;">Apr 12</div>
<div style="position:absolute;left:1586px;top:1096.5px;width:12px;height:12px;background:#1bb06a;border-radius:50%"></div>
<div id="si1" class="t" style="top:1088.5px;font-size:29px;line-height:29px;color:#323f67;font-weight:400;letter-spacing:0.855px;left:1616.00px;">Contractor selection completed</div>
<div id="sd1" class="t" style="top:1088.5px;font-size:29px;line-height:29px;color:#3b4974;font-weight:400;letter-spacing:-0.280px;right:65.48px;text-align:right;">Apr 15</div>
<div style="position:absolute;left:1586px;top:1664.1px;width:12px;height:12px;background:#1bb06a;border-radius:50%"></div>
<div id="si2" class="t" style="top:1656.1px;font-size:29px;line-height:29px;color:#323f67;font-weight:400;letter-spacing:0.518px;left:1615.00px;">Design approval received</div>
<div id="sd2" class="t" style="top:1656.1px;font-size:29px;line-height:29px;color:#3b4974;font-weight:400;letter-spacing:-0.020px;right:66.22px;text-align:right;">Oct 10</div>
<div style="position:absolute;left:1586px;top:1720.4px;width:12px;height:12px;background:#1bb06a;border-radius:50%"></div>
<div id="si3" class="t" style="top:1712.4px;font-size:29px;line-height:29px;color:#323f67;font-weight:400;letter-spacing:0.855px;left:1616.00px;">Contractor selection completed</div>
<div id="sd3" class="t" style="top:1712.4px;font-size:29px;line-height:29px;color:#3b4974;font-weight:400;letter-spacing:0.780px;right:65.42px;text-align:right;">Oct 23</div>
<svg style="position:absolute;left:1520px;top:1546px" width="48" height="48" viewBox="0 0 48 48"><circle cx="24" cy="24" r="24" fill="#2e90fa"/><path fill="#fff" d="M15.5 10.5 H32.5 V14 L27 22 L27 25 L32.5 33 V37 H15.5 V33 L21 25 L21 22 L15.5 14 Z M19 14 L24 21 L29 14 Z"/></svg>
<div style="position:absolute;left:2610px;top:1546px;width:182px;height:44px;box-sizing:border-box;border:2px solid #b2dbff;border-radius:22px;background:#eff6ff"></div>
<div style="position:absolute;left:2624px;top:1562px;width:12px;height:12px;background:#2e90fa;border-radius:50%"></div>
<div id="bdp" class="t" style="top:1555.9px;font-size:24px;line-height:24px;color:#175cd3;font-weight:400;letter-spacing:0.570px;left:2646.00px;-webkit-text-stroke:0.48px #175cd3;">In Progress</div>
<div id="mt4" class="t" style="top:1552.2px;font-size:28px;line-height:28px;color:#12152a;font-weight:400;letter-spacing:1.006px;left:1583.00px;-webkit-text-stroke:1.23px #12152a;">Relaxation Areas Renovation</div>
<div id="md4" class="t" style="top:1603.9px;font-size:24px;line-height:24px;color:#5c6d9f;font-weight:400;letter-spacing:0.865px;left:1584.00px;-webkit-text-stroke:1.06px #5c6d9f;">September 16 - October 15</div>
</body></html>
